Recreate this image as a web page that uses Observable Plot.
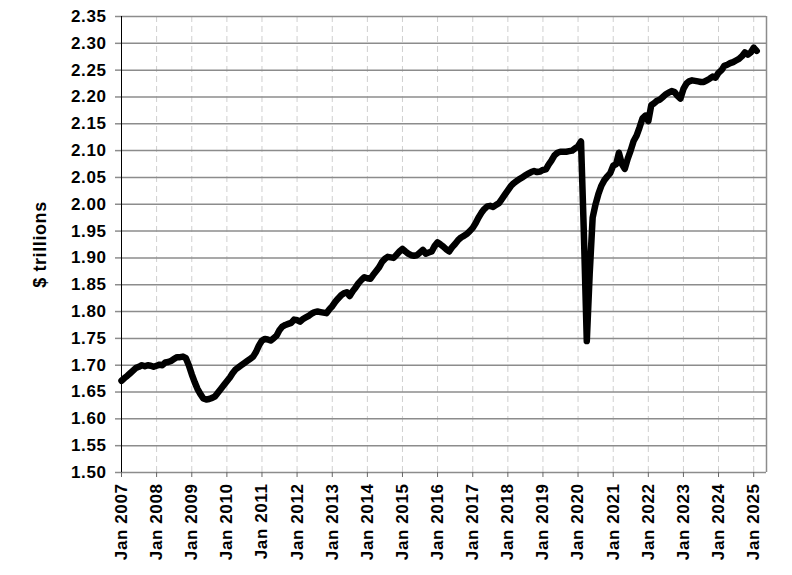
<!DOCTYPE html>
<html>
<head>
<meta charset="utf-8">
<script src="https://cdn.jsdelivr.net/npm/d3@7"></script>
<script src="https://cdn.jsdelivr.net/npm/@observablehq/plot@0.6"></script>
<style>
  html, body { margin: 0; padding: 0; background: #fff; }
  #chart svg { display: block; }
  #chart svg text { letter-spacing: 0.6px; }
  #chart svg text.ylab { letter-spacing: 1.2px; }
</style>
</head>
<body>
<div id="chart"></div>
<script>
// Monthly values, $ trillions, one array per year (Jan..Dec)
const v2007 = [1.671,1.676,1.680,1.685,1.690,1.695,1.697,1.700,1.698,1.700,1.699,1.697];
const v2008 = [1.699,1.701,1.700,1.705,1.706,1.708,1.712,1.715,1.715,1.716,1.713,1.700];
const v2009 = [1.683,1.668,1.656,1.646,1.638,1.636,1.637,1.639,1.642,1.649,1.656,1.663];
const v2010 = [1.670,1.677,1.685,1.692,1.696,1.700,1.704,1.708,1.712,1.716,1.725,1.737];
const v2011 = [1.746,1.749,1.748,1.746,1.750,1.755,1.765,1.772,1.775,1.777,1.779,1.785];
const v2012 = [1.784,1.781,1.786,1.789,1.792,1.796,1.799,1.800,1.799,1.798,1.797,1.804];
const v2013 = [1.810,1.818,1.824,1.830,1.834,1.836,1.829,1.838,1.845,1.853,1.859,1.864];
const v2014 = [1.862,1.861,1.868,1.875,1.882,1.892,1.898,1.902,1.901,1.900,1.906,1.912];
const v2015 = [1.917,1.912,1.908,1.905,1.904,1.905,1.910,1.915,1.908,1.910,1.912,1.922];
const v2016 = [1.929,1.925,1.921,1.916,1.912,1.920,1.926,1.933,1.938,1.941,1.945,1.950];
const v2017 = [1.956,1.965,1.975,1.984,1.991,1.996,1.997,1.995,1.999,2.002,2.010,2.018];
const v2018 = [2.026,2.034,2.039,2.043,2.047,2.050,2.054,2.057,2.060,2.062,2.060,2.061];
const v2019 = [2.064,2.065,2.074,2.082,2.091,2.096,2.098,2.098,2.098,2.099,2.100,2.104];
const v2020 = [2.108,2.117,1.950,1.745,1.870,1.975,2.000,2.020,2.035,2.045,2.052,2.058];
const v2021 = [2.072,2.075,2.096,2.075,2.066,2.085,2.100,2.118,2.128,2.143,2.160,2.165];
const v2022 = [2.155,2.185,2.188,2.193,2.195,2.200,2.205,2.208,2.211,2.209,2.202,2.197];
const v2023 = [2.215,2.225,2.229,2.231,2.230,2.229,2.228,2.228,2.231,2.234,2.238,2.236];
const v2024 = [2.245,2.250,2.258,2.260,2.263,2.265,2.268,2.271,2.276,2.283,2.279,2.283];
const v2025 = [2.292,2.286];

const years = [2007,2008,2009,2010,2011,2012,2013,2014,2015,2016,2017,2018,2019,2020,2021,2022,2023,2024,2025];
const yearValues = [v2007,v2008,v2009,v2010,v2011,v2012,v2013,v2014,v2015,v2016,v2017,v2018,v2019,v2020,v2021,v2022,v2023,v2024,v2025];

// Tick labels
const xTickYears = years;
const yTicks = [1.50,1.55,1.60,1.65,1.70,1.75,1.80,1.85,1.90,1.95,2.00,2.05,2.10,2.15,2.20,2.25,2.30,2.35];
const yLabel = "$ trillions";

const data = [];
yearValues.forEach((arr, i) => arr.forEach((v, m) => data.push({date: new Date(Date.UTC(years[i], m, 1)), value: v})));

const xTicks = xTickYears.map(y => new Date(Date.UTC(y, 0, 1)));
const xMin = new Date(Date.UTC(2007, 0, 1));
const xMax = new Date(Date.UTC(2025, 4, 14));

const chart = Plot.plot({
  width: 792,
  height: 575,
  marginLeft: 121,
  marginRight: 26,
  marginTop: 16,
  marginBottom: 103,
  style: {fontFamily: "'Liberation Sans', Arial, sans-serif", fontWeight: "bold", fontSize: "17px", color: "black", background: "white"},
  x: {type: "utc", domain: [xMin, xMax]},
  y: {domain: [1.5, 2.35]},
  marks: [
    Plot.ruleX(xTicks.slice(1), {stroke: "#cfcfcf", strokeWidth: 1, strokeDasharray: "6,4"}),
    Plot.ruleY(yTicks, {stroke: "#8c8c8c", strokeWidth: 1.5}),
    Plot.ruleX([xMax], {stroke: "#8c8c8c", strokeWidth: 1.5}),
    Plot.ruleX([xMin], {stroke: "black", strokeWidth: 1}),
    Plot.axisY({ticks: yTicks, tickFormat: d => d.toFixed(2), tickSize: 6, tickPadding: 9, stroke: "#8c8c8c", strokeWidth: 1.5, fontSize: 17, label: null}),
    Plot.axisX({ticks: xTicks, tickFormat: d => "Jan " + d.getUTCFullYear(), tickRotate: -90, tickSize: 5, tickPadding: 6, stroke: "#666", fontSize: 17, label: null}),
    Plot.line(data, {x: "date", y: "value", stroke: "black", strokeWidth: 6.5, strokeLinejoin: "round", strokeLinecap: "round"}),
    Plot.text([yLabel], {frameAnchor: "left", textAnchor: "middle", dx: -81, rotate: -90, fontSize: 18, fontWeight: "bold", fill: "black", className: "ylab"})
  ]
});
document.getElementById("chart").appendChild(chart);
</script>
</body>
</html>
